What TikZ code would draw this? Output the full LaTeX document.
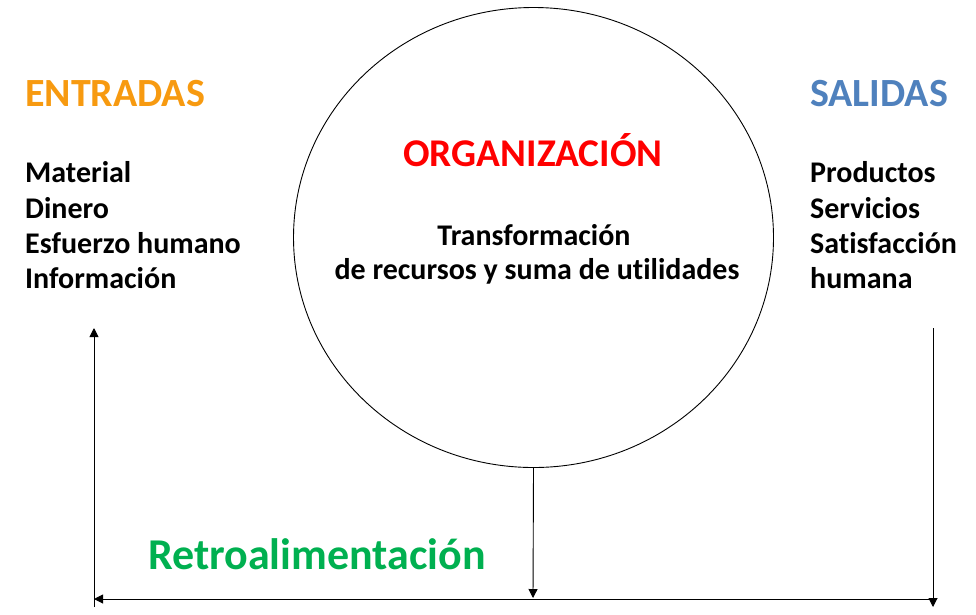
\documentclass[tikz,border=0pt]{standalone}
\usepackage{fontspec}
\setmainfont{Carlito}[Ligatures={NoCommon}]
\usetikzlibrary{arrows.meta,shapes.geometric}
\definecolor{entcol}{HTML}{F79A10}
\definecolor{salcol}{HTML}{4F81BD}
\definecolor{orgcol}{HTML}{FF0000}
\definecolor{retcol}{HTML}{00B050}
\tikzset{
  title/.style={anchor=base west,inner sep=0pt,font=\bfseries\fontsize{40}{40}\selectfont},
  body/.style={anchor=base west,inner sep=0pt,font=\bfseries\fontsize{30}{30}\selectfont},
  mid/.style={anchor=base,inner sep=0pt,font=\bfseries\fontsize{30}{30}\selectfont},
  conn/.style={draw=black,line width=0.9pt,-{Triangle[length=9pt,width=9pt]}}
}
\begin{document}
\begin{tikzpicture}[x=1pt,y=-1pt]
\useasboundingbox (0,0) rectangle (976,614);
\node[draw=black,line width=0.9pt,ellipse,minimum width=480pt,minimum height=460pt,inner sep=0pt] (org) at (533.5,237.5) {};
\node[title,text=entcol] (ent) at (25,106) {ENTRADAS};
\node[title,text=salcol] (sal) at (810,106) {SALIDAS};
\node[body] (e1) at (25,182) {Material};
\node[body] (e2) at (25,218) {Dinero};
\node[body] (e3) at (25,253) {Esfuerzo humano};
\node[body] (e4) at (25,288) {Información};
\node[body] (s1) at (810,182) {Productos};
\node[body] (s2) at (810,218) {Servicios};
\node[body] (s3) at (810,253) {Satisfacción};
\node[body] (s4) at (810,288) {humana};
\node[mid,font=\bfseries\fontsize{39.3}{39}\selectfont,text=orgcol] (orgt) at (533,166) {ORGANIZACIÓN};
\node[mid] (t1) at (534,245) {Transformación};
\node[mid] (t2) at (537,279) {de recursos y suma de utilidades};
\node[title,text=retcol,font=\bfseries\fontsize{44}{44}\selectfont] (ret) at (148,569) {Retroalimentación};
\coordinate (ltop) at (94,328);
\coordinate (lbot) at (94,607);
\coordinate (rtop) at (933,328);
\coordinate (rbot) at (933,607);
\coordinate (rcorner) at (933,599);
\coordinate (lcorner) at (94,599);
\coordinate (midpt) at (533,598);
\draw[conn] (lbot) -- (ltop);
\draw[conn] (rtop) -- (rbot);
\draw[conn] (rcorner) -- (lcorner);
\draw[conn] (org.south) -- (midpt);
\end{tikzpicture}
\end{document}
